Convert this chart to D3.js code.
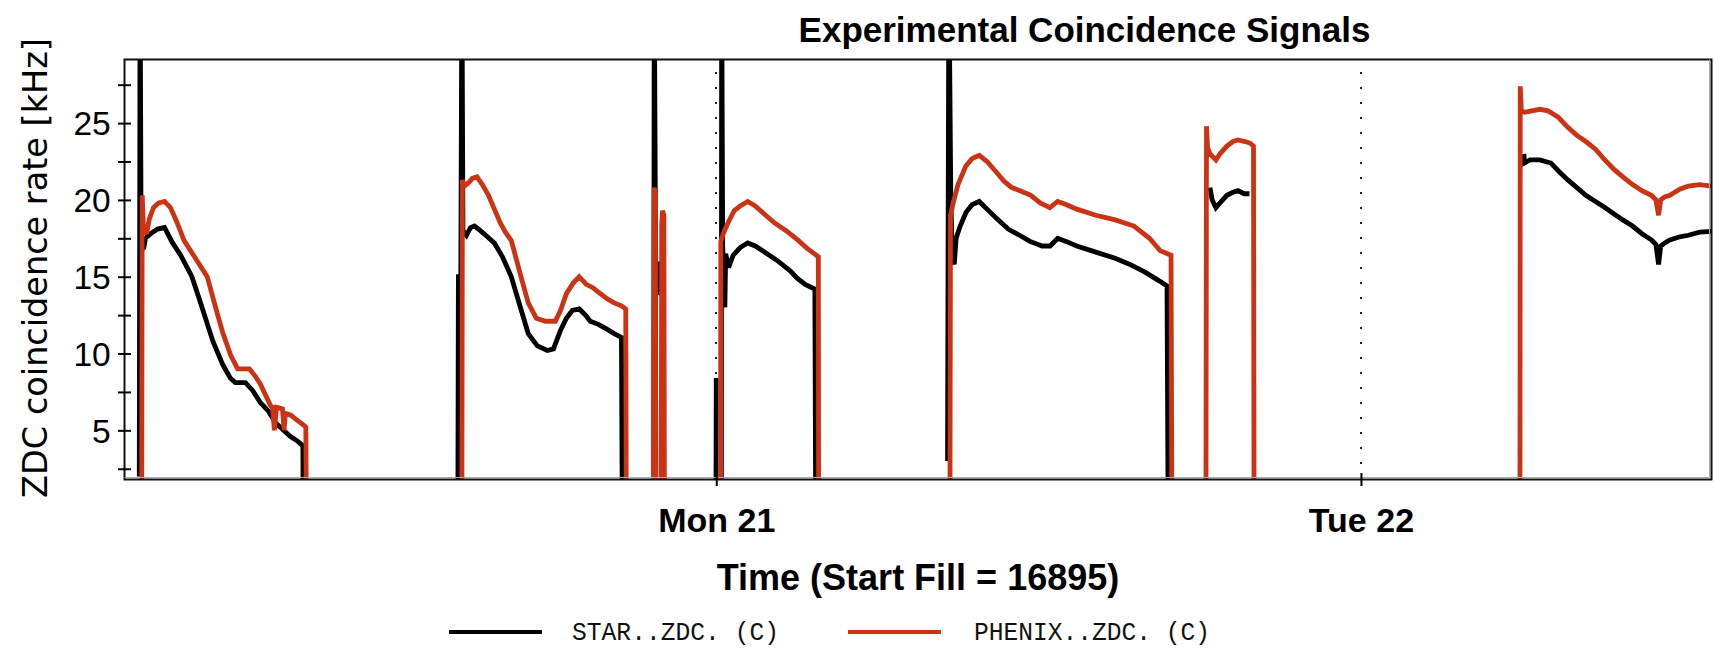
<!DOCTYPE html>
<html><head><meta charset="utf-8">
<script src="https://cdn.jsdelivr.net/npm/d3@7"></script>
<style>body{margin:0;background:#fff;} svg{display:block;}</style>
</head><body>
<svg id="chart" width="1714" height="649"></svg>
<script>
// Time in hours after Sun 2012-05-20 00:00, rate in kHz; null = gap between fills
const starData = [
 [2.52,2.0],[2.55,35],[2.59,17.0],[2.68,16.8],[2.75,17.5],[2.94,17.8],[3.20,18.1],[3.46,18.2],[3.76,17.2],[4.06,16.4],[4.48,15.0],[4.80,13.3],[5.26,10.8],[5.62,9.3],[5.90,8.43],[6.10,8.1],[6.47,8.1],[6.74,7.6],[7.03,6.8],[7.33,6.25],[7.59,5.5],[7.89,5.0],[8.15,4.6],[8.41,4.3],[8.61,4.0],[8.62,0],
 null,
 [14.38,0],[14.40,15.0],[14.49,15.0],[14.53,35],[14.57,18.0],[14.70,17.7],[14.85,18.2],[15.00,18.3],[15.22,18.0],[15.48,17.6],[15.74,17.2],[16.04,16.3],[16.37,15.0],[16.71,13.0],[17.00,11.3],[17.34,10.5],[17.71,10.2],[17.94,10.3],[18.20,11.5],[18.42,12.3],[18.64,12.8],[18.90,12.9],[19.13,12.5],[19.31,12.1],[19.61,11.9],[19.91,11.6],[20.20,11.3],[20.47,11.05],[20.50,0],
 null,
 [21.67,0],[21.69,35],[21.73,20.6],[21.75,0],
 null,
 [21.85,13.8],[21.86,16.0],
 null,
 [23.99,1.0],[24.00,8.4],
 null,
 [24.19,0],[24.20,35],[24.24,17.0],[24.32,13.0],[24.35,16.5],[24.46,15.6],[24.63,16.4],[24.89,16.9],[25.17,17.2],[25.45,17.0],[25.89,16.5],[26.31,16.0],[26.74,15.4],[27.01,14.9],[27.31,14.5],[27.67,14.2],[27.70,0],
 null,
 [32.61,3.0],[32.63,17.3],[32.66,35],[32.73,20.5],[32.78,16.5],[32.86,15.8],[32.93,17.5],[33.08,18.3],[33.30,19.2],[33.53,19.7],[33.79,19.9],[34.08,19.4],[34.43,18.8],[34.87,18.1],[35.29,17.7],[35.68,17.3],[36.13,17.0],[36.43,17.0],[36.71,17.5],[37.02,17.3],[37.42,17.0],[38.13,16.6],[38.85,16.2],[39.40,15.8],[39.96,15.3],[40.52,14.7],[40.78,14.4],[40.82,0],
 null,
 [42.38,20.8],[42.46,20.0],[42.60,19.5],[42.75,19.8],[43.01,20.3],[43.24,20.5],[43.42,20.6],[43.65,20.4],[43.85,20.4],
 null,
 [54.07,23.0],[54.08,22.4],[54.29,22.6],[54.66,22.6],[55.07,22.4],[55.40,21.8],[55.70,21.3],[56.04,20.8],[56.37,20.3],[56.73,19.9],[57.08,19.5],[57.41,19.1],[57.75,18.7],[58.11,18.3],[58.46,17.8],[58.81,17.4],[58.98,17.1],[59.08,15.8],[59.16,17.0],[59.31,17.2],[59.50,17.4],[59.87,17.6],[60.19,17.7],[60.61,17.9],[61.05,17.95]
];
const phenixData = [
 [2.61,0],[2.63,20.3],[2.68,18.0],[2.79,17.8],[2.90,18.8],[3.05,19.5],[3.24,19.8],[3.46,19.9],[3.68,19.5],[3.91,18.6],[4.19,17.35],[4.61,16.2],[5.05,15.0],[5.36,13.0],[5.62,11.4],[5.92,9.9],[6.18,9.0],[6.62,9.0],[6.85,8.5],[7.03,8.0],[7.22,7.3],[7.41,6.6],[7.48,6.5],[7.55,5.0],[7.63,6.5],[7.85,6.4],[7.91,5.0],[7.96,6.1],[8.15,6.0],[8.37,5.7],[8.67,5.3],[8.72,5.2],[8.74,0],
 null,
 [14.53,0],[14.55,21.3],[14.62,20.9],[14.77,21.1],[14.92,21.4],[15.09,21.5],[15.29,21.0],[15.52,20.3],[15.74,19.4],[15.96,18.5],[16.15,17.9],[16.37,17.35],[16.73,15.0],[17.00,13.3],[17.30,12.3],[17.64,12.1],[18.01,12.1],[18.20,12.8],[18.42,13.9],[18.68,14.6],[18.90,15.0],[19.16,14.5],[19.39,14.3],[19.61,14.0],[19.91,13.6],[20.20,13.3],[20.47,13.1],[20.63,12.9],[20.65,0],
 null,
 [21.66,0],[21.69,20.8],[21.73,20.4],[21.75,0],
 null,
 [21.95,0],[21.97,18.4],[22.00,19.3],[22.05,19.0],[22.07,0],
 null,
 [24.16,0],[24.17,17.3],[24.26,17.8],[24.46,18.6],[24.67,19.3],[24.89,19.6],[25.17,19.9],[25.45,19.6],[25.71,19.2],[26.17,18.5],[26.60,18.0],[27.03,17.4],[27.35,16.9],[27.57,16.6],[27.80,16.3],[27.81,0],
 null,
 [32.70,0],[32.72,19.0],[32.82,19.8],[33.00,21.0],[33.29,22.2],[33.53,22.7],[33.79,22.9],[34.08,22.5],[34.43,21.8],[34.72,21.2],[35.00,20.8],[35.31,20.6],[35.71,20.3],[36.06,19.8],[36.42,19.5],[36.71,19.9],[37.02,19.7],[37.42,19.4],[38.13,19.0],[38.85,18.7],[39.55,18.3],[40.13,17.5],[40.52,16.7],[40.93,16.4],[40.96,0],
 null,
 [42.23,0],[42.25,24.8],[42.29,23.4],[42.38,23.0],[42.49,22.8],[42.60,22.6],[42.75,23.0],[43.01,23.5],[43.24,23.8],[43.42,23.9],[43.68,23.8],[43.87,23.7],[44.00,23.5],[44.02,0],
 null,
 [53.92,0],[53.93,27.4],[53.97,25.8],[54.10,25.7],[54.36,25.8],[54.66,25.9],[54.96,25.8],[55.33,25.4],[55.66,24.8],[56.04,24.2],[56.37,23.8],[56.73,23.3],[57.08,22.6],[57.41,22.0],[57.75,21.5],[58.11,21.0],[58.46,20.6],[58.81,20.3],[58.98,20.0],[59.08,19.0],[59.16,20.0],[59.31,20.2],[59.50,20.3],[59.87,20.7],[60.19,20.9],[60.61,21.0],[61.05,20.9]
];
const yMajorTicks = [5, 10, 15, 20, 25];
const yMinorTicks = [2.5, 7.5, 12.5, 17.5, 22.5, 27.5];
const timeRangeHours = [1.97, 61.05];
const rateRange = [1.8, 29.14];
const seriesNames = ["STAR..ZDC. (C)", "PHENIX..ZDC. (C)"];
const seriesColors = ["#000000", "#cc3314"];
const titleText = "Experimental Coincidence Signals";
const xTitleText = "Time (Start Fill = 16895)";
const yTitleText = "ZDC coincidence rate [kHz]";

const svg = d3.select("#chart");
const m = {left: 124.5, right: 1711.5, top: 59.5, bottom: 479.5};
const base = new Date(2012, 4, 20, 0, 0, 0);
const toDate = h => new Date(base.getTime() + h * 3600e3);

const x = d3.scaleTime().domain(timeRangeHours.map(toDate)).range([m.left, m.right]);
const y = d3.scaleLinear().domain(rateRange).range([m.bottom, m.top]);

svg.append("rect").attr("width", 1714).attr("height", 649).attr("fill", "#fff");

svg.append("defs").append("clipPath").attr("id", "plotclip")
  .append("rect").attr("x", m.left).attr("y", m.top)
  .attr("width", m.right - m.left).attr("height", m.bottom - m.top);

// dotted day gridlines
const dayTicks = d3.timeDay.range(toDate(timeRangeHours[0]), toDate(timeRangeHours[1]));
svg.append("g").selectAll("line").data(dayTicks).join("line")
  .attr("x1", d => Math.round(x(d))).attr("x2", d => Math.round(x(d)))
  .attr("y1", 72).attr("y2", m.bottom - 4)
  .attr("stroke", "#222").attr("stroke-width", 2).attr("stroke-dasharray", "2 13");

// series
const line = d3.line()
  .defined(d => d !== null)
  .x(d => x(toDate(d[0])))
  .y(d => y(d[1]));

const plot = svg.append("g").attr("clip-path", "url(#plotclip)");
[starData, phenixData].forEach((data, i) => {
  plot.append("path").datum(data)
    .attr("d", line)
    .attr("fill", "none")
    .attr("stroke", seriesColors[i])
    .attr("stroke-width", 4.8)
    .attr("stroke-linejoin", "miter")
    .attr("stroke-miterlimit", 2);
});

// frame
svg.append("rect").attr("x", m.left).attr("y", m.top)
  .attr("width", m.right - m.left).attr("height", m.bottom - m.top)
  .attr("fill", "none").attr("stroke", "#111").attr("stroke-width", 2);
svg.append("path")
  .attr("d", `M${m.left},${m.bottom - 2}H${m.right - 2}V${m.top}`)
  .attr("fill", "none").attr("stroke", "#aaa").attr("stroke-width", 1);

// y axis major
const yAxis = svg.append("g").attr("transform", `translate(${m.left},0)`)
  .call(d3.axisLeft(y).tickValues(yMajorTicks).tickSize(6.5).tickPadding(7.3).tickFormat(d3.format("d")));
yAxis.select(".domain").remove();
yAxis.selectAll(".tick line").attr("x1", 6.5).attr("stroke", "#000").attr("stroke-width", 2);
yAxis.selectAll(".tick text")
  .attr("font-family", "'Liberation Sans', Arial, sans-serif")
  .attr("font-size", 33.5).attr("fill", "#000").attr("dy", "0.35em");

const yAxisMinor = svg.append("g").attr("transform", `translate(${m.left},0)`)
  .call(d3.axisLeft(y).tickValues(yMinorTicks).tickSize(6.5).tickFormat(""));
yAxisMinor.select(".domain").remove();
yAxisMinor.selectAll(".tick line").attr("x1", 6.5).attr("stroke", "#000").attr("stroke-width", 2);

// x axis
const xAxis = svg.append("g").attr("transform", `translate(0,${m.bottom})`)
  .call(d3.axisBottom(x).tickValues(dayTicks).tickSize(6.5).tickFormat(d3.timeFormat("%a %d")));
xAxis.select(".domain").remove();
xAxis.selectAll(".tick line").attr("y1", -6.5).attr("stroke", "#000").attr("stroke-width", 2);
xAxis.selectAll(".tick text")
  .attr("y", 52.2).attr("dy", 0)
  .attr("font-family", "'Liberation Sans', Arial, sans-serif")
  .attr("font-weight", "bold").attr("font-size", 34).attr("fill", "#000");

// titles
svg.append("text").attr("x", 1084.5).attr("y", 42).attr("text-anchor", "middle")
  .attr("font-family", "'Liberation Sans', Arial, sans-serif").attr("font-weight", "bold")
  .attr("font-size", 35).text(titleText);
svg.append("text").attr("x", 918).attr("y", 590).attr("text-anchor", "middle")
  .attr("font-family", "'Liberation Sans', Arial, sans-serif").attr("font-weight", "bold")
  .attr("font-size", 36).text(xTitleText);
svg.append("text").attr("transform", "translate(47,268) rotate(-90)").attr("text-anchor", "middle")
  .attr("font-family", "'DejaVu Sans', sans-serif")
  .attr("font-size", 33.5).text(yTitleText);

// legend
const legendX = [449, 848];
const legendTextX = [572, 974];
const legendTextLen = [207, 236];
seriesNames.forEach((name, i) => {
  svg.append("line").attr("x1", legendX[i]).attr("x2", legendX[i] + 93)
    .attr("y1", 632).attr("y2", 632)
    .attr("stroke", seriesColors[i]).attr("stroke-width", 4);
  svg.append("text").attr("x", legendTextX[i]).attr("y", 640)
    .attr("font-family", "'Liberation Mono', 'DejaVu Sans Mono', monospace")
    .attr("font-size", 25).attr("fill", "#111")
    .attr("textLength", legendTextLen[i]).attr("lengthAdjust", "spacingAndGlyphs")
    .text(name);
});
</script>
</body></html>
